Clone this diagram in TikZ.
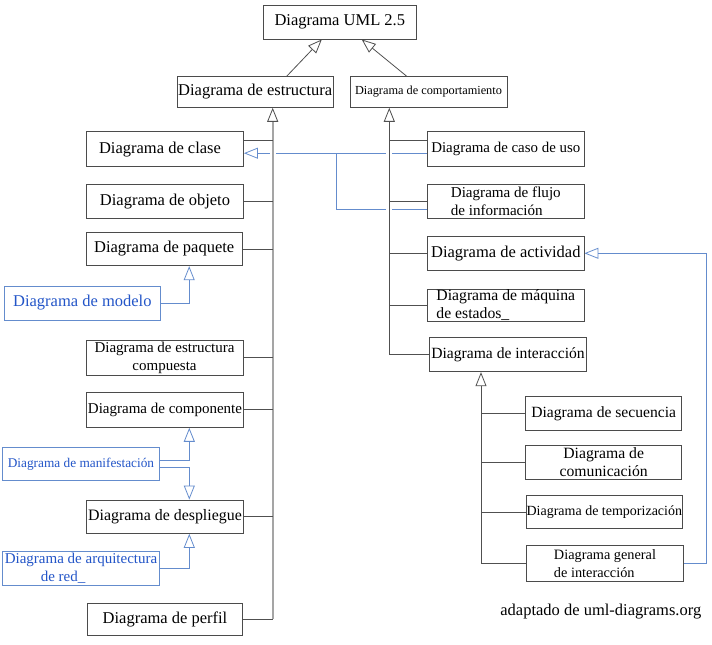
\documentclass[tikz,border=0pt]{standalone}
\usepackage{fontspec}
\setmainfont{Liberation Serif}
\usetikzlibrary{arrows.meta,calc,backgrounds}
\definecolor{boxgray}{RGB}{75,75,75}
\definecolor{linegray}{RGB}{80,80,80}
\definecolor{trunkgray}{RGB}{165,165,165}
\definecolor{blueline}{RGB}{100,140,205}
\definecolor{bluetext}{RGB}{35,85,200}
\newcommand{\myfs}[1]{\fontsize{#1}{18}\selectfont}
\begin{document}
\begin{tikzpicture}[x=1pt,y=-1pt,
  box/.style={draw=boxgray, line width=0.9pt, fill=white, inner sep=0pt, align=center, text=black},
  bbox/.style={draw=blueline, line width=0.9pt, fill=white, inner sep=0pt, align=center, text=bluetext},
  conn/.style={draw=linegray, line width=0.8pt},
  gen/.style={draw=linegray, line width=0.8pt, -{Triangle[open,length=14pt,width=11pt]}},
  trunkL/.style={draw=trunkgray, line width=1.6pt, preaction={draw=white, line width=6pt, arrows=-}},
  trunkR/.style={draw=linegray, line width=0.8pt, preaction={draw=white, line width=6pt, arrows=-}},
  tip/.style={-{Triangle[open,length=14pt,width=11pt,line width=0.8pt,color=linegray]}},
  bconn/.style={draw=blueline, line width=0.8pt},
  bgen/.style={draw=blueline, line width=0.8pt, -{Triangle[open,length=14pt,width=11pt]}}
]
\useasboundingbox (0,0) rectangle (712,645);

% top
\node[box, minimum width=153.7pt, minimum height=34pt, font=\myfs{16.5}] (uml) at (339.8,22) {Diagrama UML 2.5};
\node[box, minimum width=156.5pt, minimum height=30.6pt, font=\myfs{16.5}] (estr) at (255.2,92) {Diagrama de estructura};
\node[box, minimum width=157pt, minimum height=30.6pt, font=\myfs{12.3}] (comp) at (428.5,92) {Diagrama de comportamiento};

% left column
\node[box, minimum width=157pt, minimum height=35pt, font=\myfs{16.5}] (clase) at (165,149.2) {\hspace*{-10pt}Diagrama de clase};
\node[box, minimum width=157pt, minimum height=34pt, font=\myfs{16.5}] (obj) at (165,201.2) {Diagrama de objeto};
\node[box, minimum width=156.3pt, minimum height=33.4pt, font=\myfs{16.5}] (paq) at (164.2,249) {Diagrama de paquete};
\node[bbox, minimum width=156.7pt, minimum height=34pt, font=\myfs{16.5}] (mod) at (82.3,303) {Diagrama de modelo};
\node[box, minimum width=157pt, minimum height=35pt, font=\myfs{15}] (cmp) at (164.5,357.5) {Diagrama de estructura\\compuesta};
\node[box, minimum width=156.6pt, minimum height=35pt, font=\myfs{15}] (compo) at (165,409.8) {Diagrama de componente};
\node[bbox, minimum width=156.6pt, minimum height=33.4pt, font=\myfs{13.3}] (man) at (81,464) {Diagrama de manifestación};
\node[box, minimum width=156.6pt, minimum height=33.3pt, font=\myfs{15.9}] (desp) at (165,516.7) {Diagrama de despliegue};
\node[bbox, minimum width=156.6pt, minimum height=33.3pt, font=\myfs{15}, align=left] (arq) at (81,568.3) {Diagrama de arquitectura\\\hspace*{36pt}de red\_};
\node[box, minimum width=155.4pt, minimum height=31.7pt, font=\myfs{16.5}] (perf) at (165,619.2) {Diagrama de perfil};

% right column
\node[box, minimum width=156.3pt, minimum height=35pt, font=\myfs{14.9}] (caso) at (505.8,149.2) {Diagrama de caso de uso};
\node[box, minimum width=156.3pt, minimum height=34pt, font=\myfs{15.1}, align=left] (flujo) at (505.8,201.3) {Diagrama de flujo\\de información};
\node[box, minimum width=156.3pt, minimum height=33.3pt, font=\myfs{16.5}] (act) at (505.8,253.3) {Diagrama de actividad};
\node[box, minimum width=156.3pt, minimum height=32.4pt, font=\myfs{15.7}, align=left] (maq) at (505.8,305.5) {Diagrama de máquina\\de estados\_};
\node[box, minimum width=157.4pt, minimum height=34.4pt, font=\myfs{15.6}] (inter) at (508,354.5) {Diagrama de interacción};
\node[box, minimum width=156pt, minimum height=33.3pt, font=\myfs{15.6}] (sec) at (603.7,413.3) {Diagrama de secuencia};
\node[box, minimum width=156pt, minimum height=33.3pt, font=\myfs{15.7}] (com) at (603.7,462.3) {Diagrama de\\comunicación};
\node[box, minimum width=156.7pt, minimum height=32.6pt, font=\myfs{14}] (temp) at (604.3,512) {Diagrama de temporización};
\node[box, minimum width=156.6pt, minimum height=36pt, font=\myfs{14.3}, align=left] (gral) at (605,563.7) {Diagrama general\\de interacción};

\node[font=\myfs{16.5}] (src) at (600.8,611.7) {adaptado de uml-diagrams.org};

\begin{scope}[on background layer]
% blue lines (under trunks)
\coordinate (b1) at ($(clase.east)+(0,4)$);
\coordinate (b2) at ($(caso.west)+(0,4)$);
\coordinate (br) at ($(b1)+(92.4,0)$);
\draw[bgen] (b2) -- (b1);
\draw[bconn] (br) |- ($(flujo.west)+(0,8)$);

% trunks
\coordinate (tL) at ($(estr.south)+(17.5,0)$);
\coordinate (tR) at ($(comp.south)+(-39.2,0)$);
\coordinate (tI) at ($(inter.south)+(-27,0)$);
\draw[trunkL, tip] (tL |- perf.east) -- (tL);
\draw[trunkR, tip] (tR |- inter.west) -- (tR);
\draw[trunkR, tip] (tI |- gral.west) -- (tI);

% grey connectors
\coordinate (c1) at ($(clase.east)+(0,-8.5)$);
\draw[conn] (c1) -- (tL |- c1);
\draw[conn] (obj.east) -- (tL |- obj.east);
\draw[conn] (paq.east) -- (tL |- paq.east);
\draw[conn] (cmp.east) -- (tL |- cmp.east);
\draw[conn] (compo.east) -- (tL |- compo.east);
\draw[conn] (desp.east) -- (tL |- desp.east);
\draw[conn] (perf.east) -- (tL |- perf.east);

\coordinate (c2) at ($(caso.west)+(0,-8.5)$);
\draw[conn] (c2) -- (tR |- c2);
\draw[conn] (flujo.west) -- (tR |- flujo.west);
\draw[conn] (act.west) -- (tR |- act.west);
\draw[conn] (maq.west) -- (tR |- maq.west);
\draw[conn] (inter.west) -- (tR |- inter.west);

\draw[conn] (sec.west) -- (tI |- sec.west);
\draw[conn] (com.west) -- (tI |- com.west);
\draw[conn] (temp.west) -- (tI |- temp.west);
\draw[conn] (gral.west) -- (tI |- gral.west);

% top generalizations
\draw[gen] ($(estr.north)+(31.5,0)$) -- ($(uml.south)+(-18,0)$);
\draw[gen] ($(comp.north)+(-21.8,0)$) -- ($(uml.south)+(21.9,0)$);

% blue generalizations left
\draw[bgen] (mod.east) -| ($(paq.south)+(25,0)$);
\draw[bgen] ($(man.east)+(0,-4)$) -| ($(compo.south)+(24.3,0)$);
\draw[bgen] ($(man.east)+(0,3.7)$) -| ($(desp.north)+(24.3,0)$);
\draw[bgen] (arq.east) -| ($(desp.south)+(24.3,0)$);

% blue from general to actividad
\draw[bgen] (gral.east) -- ++(22.7,0) |- (act.east);
\end{scope}
\end{tikzpicture}
\end{document}
